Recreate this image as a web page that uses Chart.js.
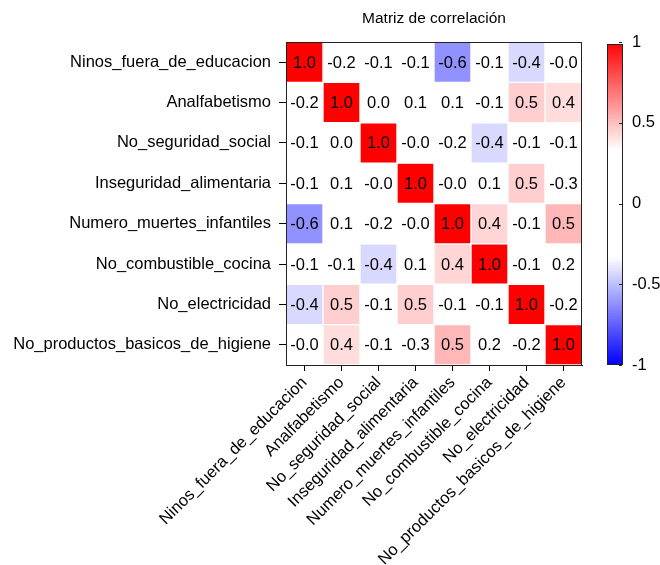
<!DOCTYPE html>
<html>
<head>
<meta charset="utf-8">
<script src="https://cdn.jsdelivr.net/npm/chart.js@4.4.1/dist/chart.umd.min.js"></script>
<style>
  html, body { margin: 0; padding: 0; background: #fff; }
  canvas { display: block; }
</style>
</head>
<body>
<canvas id="corr" width="660" height="565"></canvas>
<script>
// variables de la matriz (filas y columnas en el mismo orden)
const variables = [
  'Ninos_fuera_de_educacion',
  'Analfabetismo',
  'No_seguridad_social',
  'Inseguridad_alimentaria',
  'Numero_muertes_infantiles',
  'No_combustible_cocina',
  'No_electricidad',
  'No_productos_basicos_de_higiene'
];

// correlaciones, una fila por variable
const rowNinos      = [ 1.00, -0.17, -0.12, -0.08, -0.62, -0.06, -0.43, -0.03];
const rowAnalf      = [-0.17,  1.00,  0.03,  0.08,  0.07, -0.09,  0.46,  0.42];
const rowSegSocial  = [-0.12,  0.03,  1.00, -0.04, -0.18, -0.43, -0.12, -0.07];
const rowAlim       = [-0.08,  0.08, -0.04,  1.00, -0.02,  0.10,  0.46, -0.27];
const rowMuertes    = [-0.62,  0.07, -0.18, -0.02,  1.00,  0.44, -0.08,  0.52];
const rowCombust    = [-0.06, -0.09, -0.43,  0.10,  0.44,  1.00, -0.11,  0.16];
const rowElectr     = [-0.43,  0.46, -0.12,  0.46, -0.08, -0.11,  1.00, -0.21];
const rowHigiene    = [-0.03,  0.42, -0.07, -0.27,  0.52,  0.16, -0.21,  1.00];
const corrRows = [rowNinos, rowAnalf, rowSegSocial, rowAlim, rowMuertes, rowCombust, rowElectr, rowHigiene];

const cbTicks = [-1, -0.5, 0, 0.5, 1];
const titleText = 'Matriz de correlación';

const FONT = '"Liberation Sans", Arial, Helvetica, sans-serif';
const FS = 16.5;

// escala bwr con zona blanca alrededor de 0
function corrColor(v) {
  const a = Math.abs(v);
  const t = Math.max(0, Math.min(1, (a - 0.33) / 0.67));
  const c = Math.round(255 * (1 - t));
  return v >= 0 ? `rgb(255,${c},${c})` : `rgb(${c},${c},255)`;
}

const cellLabels = {
  id: 'cellLabels',
  afterDatasetsDraw(chart) {
    const { ctx } = chart;
    ctx.save();
    ctx.font = FS + 'px ' + FONT;
    ctx.fillStyle = '#000';
    ctx.textAlign = 'center';
    ctx.textBaseline = 'middle';
    chart.data.datasets.forEach((ds, i) => {
      chart.getDatasetMeta(i).data.forEach((el, j) => {
        const p = el.getCenterPoint();
        ctx.fillText(corrRows[i][j].toFixed(1), p.x, p.y + 1);
      });
    });
    const a = chart.chartArea;
    ctx.strokeStyle = '#222';
    ctx.lineWidth = 1;
    ctx.strokeRect(Math.round(a.left) + 0.5, Math.round(a.top) + 0.5, Math.round(a.right - a.left) - 1, Math.round(a.bottom - a.top));
    ctx.restore();
  }
};

const colorBar = {
  id: 'colorBar',
  afterDraw(chart) {
    const { ctx, chartArea } = chart;
    const cb = chart.scales.cb;
    const x0 = Math.round(chartArea.right) + 25, w = 15;
    const top = Math.round(cb.getPixelForValue(1)) + 2;
    const bot = Math.round(cb.getPixelForValue(-1)) - 1;
    ctx.save();
    for (let y = top; y < bot; y++) {
      const v = cb.getValueForPixel(y + 0.5);
      ctx.fillStyle = corrColor(v);
      ctx.fillRect(x0, y, w, 1);
    }
    ctx.strokeStyle = '#222';
    ctx.lineWidth = 1;
    ctx.strokeRect(x0 + 0.5, top + 0.5, w, bot - top);
    cbTicks.forEach(t => {
      const y = Math.round(cb.getPixelForValue(t)) + 0.5;
      ctx.beginPath();
      ctx.moveTo(x0 + w - 3, y); ctx.lineTo(x0 + w, y);
      ctx.stroke();
    });
    // título
    ctx.font = '15.5px ' + FONT;
    ctx.fillStyle = '#000';
    ctx.textAlign = 'center';
    ctx.textBaseline = 'middle';
    ctx.fillText(titleText, (chartArea.left + chartArea.right) / 2, 19);
    ctx.restore();
  }
};

new Chart(document.getElementById('corr'), {
  type: 'bar',
  data: {
    labels: variables,
    datasets: corrRows.map((row, i) => ({
      label: variables[i],
      data: variables.map(() => 1),
      backgroundColor: row.map(corrColor),
      borderColor: '#fff',
      borderWidth: 1,
      borderSkipped: false,
      categoryPercentage: 1,
      barPercentage: 1,
      yAxisID: 'y'
    }))
  },
  options: {
    responsive: false,
    animation: false,
    devicePixelRatio: 1,
    layout: { padding: { top: 42, left: 0, right: 0, bottom: 0 } },
    plugins: { legend: { display: false }, tooltip: { enabled: false }, title: { display: false } },
    scales: {
      x: {
        stacked: true,
        grid: { display: true, offset: false, drawOnChartArea: false, drawTicks: true, tickLength: 6, color: '#000' },
        border: { display: true, color: '#222' },
        ticks: { color: '#000', font: { family: FONT, size: FS }, minRotation: 45, maxRotation: 45, autoSkip: false, padding: 2 },
        afterFit: s => { s.height = 200; s.paddingLeft = 0; s.paddingRight = 0; }
      },
      y: {
        type: 'linear', stacked: true, reverse: true, min: 0, max: 8,
        grid: { display: true, drawOnChartArea: false, drawTicks: true, tickLength: 7, color: '#000' },
        border: { display: true, color: '#222' },
        afterBuildTicks: s => { s.ticks = variables.map((_, i) => ({ value: i + 0.5 })); },
        ticks: { color: '#000', font: { family: FONT, size: FS }, padding: 8, autoSkip: false, callback: (v, i) => variables[i] },
        afterFit: s => { s.width = 286; s.paddingTop = 0; s.paddingBottom = 0; }
      },
      cb: {
        type: 'linear', position: 'right', min: -1, max: 1,
        grid: { display: false, drawTicks: false },
        border: { display: false },
        afterBuildTicks: s => { s.ticks = cbTicks.map(v => ({ value: v })); },
        ticks: { color: '#000', font: { family: FONT, size: FS }, padding: 50, callback: v => String(v) },
        afterFit: s => { s.width = 78; s.paddingTop = 0; s.paddingBottom = 0; }
      }
    }
  },
  plugins: [cellLabels, colorBar]
});
</script>
</body>
</html>
